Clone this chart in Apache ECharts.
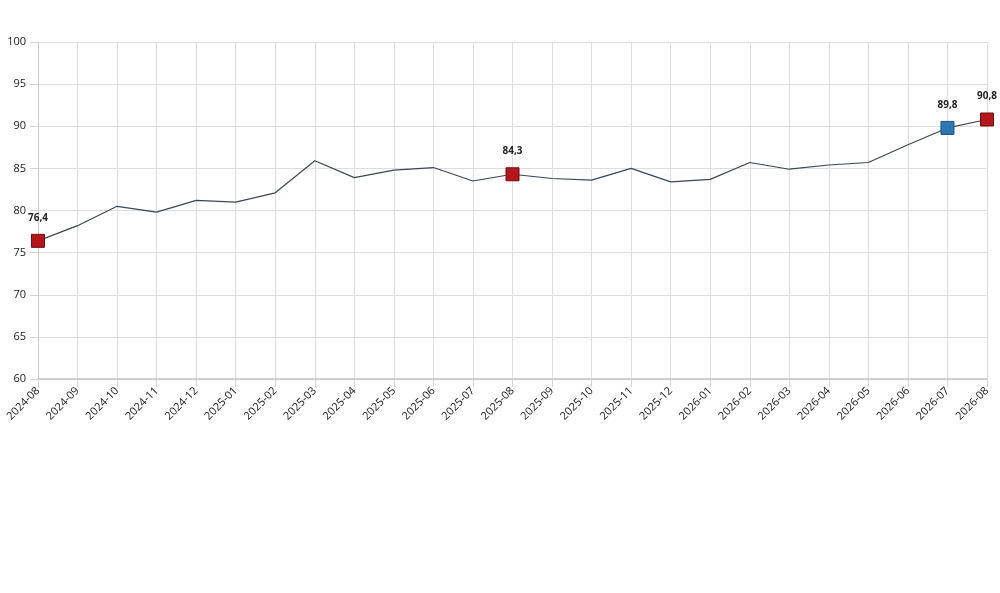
<!DOCTYPE html>
<html>
<head>
<meta charset="utf-8">
<script src="https://cdn.jsdelivr.net/npm/echarts@6/dist/echarts.min.js"></script>
<style>
html,body{margin:0;padding:0;background:#fff;}
#chart{width:1000px;height:593px;}
</style>
</head>
<body>
<div id="chart"></div>
<script>
var categories = ['2024-08','2024-09','2024-10','2024-11','2024-12','2025-01','2025-02','2025-03','2025-04','2025-05','2025-06','2025-07','2025-08','2025-09','2025-10','2025-11','2025-12','2026-01','2026-02','2026-03','2026-04','2026-05','2026-06','2026-07','2026-08'];
var values = [76.4,78.2,80.5,79.8,81.2,81.0,82.1,85.9,83.9,84.8,85.1,83.5,84.3,83.8,83.6,85.0,83.4,83.7,85.7,84.9,85.4,85.7,87.8,89.8,90.8];
var markedIndex = [0,12,23,24];
var markedColor = ['#b3161b','#b3161b','#2e77b5','#b3161b'];
var markedBorder = ['#6e0e10','#6e0e10','#1d4f7c','#6e0e10'];
var yTicks = [60,65,70,75,80,85,90,95,100];

var data = values.map(function(v, i){
  var k = markedIndex.indexOf(i);
  if (k < 0) return { value: v, symbol: 'none' };
  return {
    value: v,
    symbol: 'rect',
    symbolSize: 13,
    itemStyle: { color: markedColor[k], borderColor: markedBorder[k], borderWidth: 1 },
    label: {
      show: true, position: 'top', distance: 11,
      formatter: function(p){ return String(p.value).replace('.', ','); },
      fontFamily: 'Open Sans', fontSize: 10, fontWeight: 'bold', color: '#222'
    }
  };
});

var chart = echarts.init(document.getElementById('chart'), null, {renderer:'canvas'});
chart.setOption({
  animation: false,
  backgroundColor: '#fff',
  grid: { left: 38, right: 13, top: 42, bottom: 214, containLabel: false },
  xAxis: {
    type: 'category',
    data: categories,
    boundaryGap: false,
    axisLine: { lineStyle: { color: '#c4c4c4', width: 1.5 } },
    axisTick: { show: true, length: 8, alignWithLabel: true, lineStyle: { color: '#d4d4d4' } },
    axisLabel: { rotate: 45, interval: 0, fontFamily: 'Open Sans', fontSize: 11, color: '#1a1a1a', margin: 10 },
    splitLine: { show: true, lineStyle: { color: '#dedede', width: 1 } }
  },
  yAxis: {
    type: 'value',
    min: yTicks[0], max: yTicks[yTicks.length-1], interval: 5,
    axisLine: { show: true, lineStyle: { color: '#cccccc' } },
    axisTick: { show: true, length: 8, lineStyle: { color: '#d4d4d4' } },
    axisLabel: { fontFamily: 'Open Sans', fontSize: 11, color: '#1a1a1a', margin: 12 },
    splitLine: { show: true, lineStyle: { color: '#dedede', width: 1 } }
  },
  series: [{
    type: 'line',
    data: data,
    showAllSymbol: true,
    lineStyle: { color: '#3b4754', width: 1.2 },
    itemStyle: { color: '#3b4754' },
    z: 3
  }]
});
</script>
</body>
</html>
